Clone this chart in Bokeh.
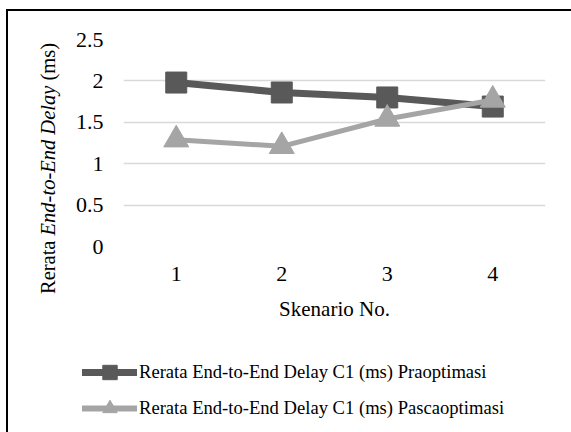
import math
from bokeh.plotting import figure
from bokeh.layouts import column, row
from bokeh.models import (FactorRange, Range1d, Legend, LegendItem, Label)
from bokeh.embed import file_html
from bokeh.resources import INLINE

# ---- data ----
scenarios = ["1", "2", "3", "4"]
pra = [1.98, 1.86, 1.80, 1.69]
pasca = [1.29, 1.21, 1.54, 1.77]
y_ticks = [0, 0.5, 1, 1.5, 2, 2.5]
name_pra = "Rerata End-to-End Delay C1 (ms) Praoptimasi"
name_pasca = "Rerata End-to-End Delay C1 (ms) Pascaoptimasi"
x_title = "Skenario No."
y_title_parts = ["Rerata", "End-to-End Delay", "(ms)"]

FONT = "Liberation Serif"
DARK = "#595959"
LIGHT = "#A5A5A5"

# canvas geometry (window pixels)
OX, OY = 8, 11            # content origin after margin + border
W, H = 571, 432
FL, FR, FT, FB = 123, 545, 39, 246   # plot frame edges
SPLIT_X = 70              # boundary between title strip and chart
SPLIT_Y = 330             # boundary between chart and legend strip


def blank(width, height, x_range=None, y_range=None):
    f = figure(width=width, height=height, output_backend="svg", toolbar_location=None,
               x_axis_type=None, y_axis_type=None, min_border=0,
               x_range=x_range if x_range is not None else Range1d(0, 1),
               y_range=y_range if y_range is not None else Range1d(0, 1))
    f.outline_line_color = None
    f.grid.visible = False
    f.border_fill_color = "white"
    f.background_fill_color = "white"
    return f


# ---- main chart ----
p = figure(width=W - SPLIT_X, height=SPLIT_Y - OY, output_backend="svg", toolbar_location=None,
           x_range=FactorRange(*scenarios, range_padding=0),
           y_range=Range1d(0, 2.5),
           min_border_left=FL - SPLIT_X, min_border_right=W - FR,
           min_border_top=FT - OY, min_border_bottom=SPLIT_Y - FB)
p.outline_line_color = None
p.background_fill_color = "white"
p.border_fill_color = "white"

for ax in (p.xaxis, p.yaxis):
    ax.axis_line_color = None
    ax.major_tick_line_color = None
    ax.minor_tick_line_color = None
    ax.major_tick_out = 0
    ax.major_tick_in = 0
    ax.major_label_text_font = FONT
    ax.major_label_text_font_size = "22px"
    ax.major_label_text_color = "black"
p.yaxis.ticker = y_ticks
p.yaxis.major_label_overrides = {0: "0", 0.5: "0.5", 1: "1", 1.5: "1.5", 2: "2", 2.5: "2.5"}
p.xaxis.major_label_standoff = 20
p.yaxis.major_label_standoff = 20
p.xaxis.axis_label = x_title
p.xaxis.axis_label_text_font = FONT
p.xaxis.axis_label_text_font_size = "21px"
p.xaxis.axis_label_text_font_style = "normal"
p.xaxis.axis_label_text_color = "black"
p.xaxis.axis_label_standoff = 13

p.xgrid.grid_line_color = None
p.ygrid.grid_line_color = "#D9D9D9"
p.ygrid.grid_line_width = 1.5

p.line(scenarios, pra, line_color=DARK, line_width=7, line_cap="round", line_join="round")
p.scatter(scenarios, pra, marker="square", size=21, fill_color=DARK, line_color=DARK)
p.line(scenarios, pasca, line_color=LIGHT, line_width=5, line_cap="round", line_join="round")
p.scatter(scenarios, pasca, marker="triangle", size=25, fill_color=LIGHT, line_color=LIGHT)

# ---- y-axis title strip (mixed upright / italic), full height ----
ft = blank(SPLIT_X - OX, H - OY)
fs = 20.5
SP = 0.25  # width of a space, em
widths_em = [2.61 + SP, 7.304 + SP, 1.833]
styles = ["normal", "italic", "normal"]
total = sum(widths_em) * fs
y_center = 168
y_start = y_center + total / 2
x_c = 47
acc = 0.0
for txt, wem, st in zip(y_title_parts, widths_em, styles):
    yc = y_start - acc
    ft.add_layout(Label(x=x_c - OX, y=H - yc, x_units="screen", y_units="screen",
                        text=txt, angle=math.pi / 2, text_align="left",
                        text_baseline="middle", text_font=FONT,
                        text_font_size=f"{fs}px", text_font_style=st,
                        text_color="black"))
    acc += wem * fs

# ---- legend strip (series drawn out of its view, only the legend shows) ----
fl = blank(W - SPLIT_X, H - SPLIT_Y,
           x_range=FactorRange(*scenarios), y_range=Range1d(10, 11))
lr1 = fl.line(scenarios, pra, line_color=DARK, line_width=7, line_cap="round")
ls1 = fl.scatter(scenarios, pra, marker="square", size=17, fill_color=DARK, line_color=DARK)
lr2 = fl.line(scenarios, pasca, line_color=LIGHT, line_width=6, line_cap="round")
ls2 = fl.scatter(scenarios, pasca, marker="triangle", size=21, fill_color=LIGHT, line_color=LIGHT)
GH = 36
legend = Legend(items=[LegendItem(label=name_pra, renderers=[lr1, ls1]),
                       LegendItem(label=name_pasca, renderers=[lr2, ls2])],
                location=(82 - SPLIT_X, H - (353.7 + 2 * GH)), orientation="vertical",
                glyph_width=55, glyph_height=GH, label_height=GH,
                spacing=0, padding=0, margin=0, label_standoff=2,
                border_line_color=None, background_fill_alpha=0,
                label_text_font=FONT, label_text_font_size="18.6px",
                label_text_color="black")
fl.add_layout(legend)

layout = row(ft, column(p, row(fl, spacing=0), spacing=0), spacing=0,
             styles={"margin-left": "6px", "margin-top": "9px",
                     "border-left": "2px solid black", "border-top": "2px solid black"})

open("out.html", "w").write(file_html(layout, INLINE))
